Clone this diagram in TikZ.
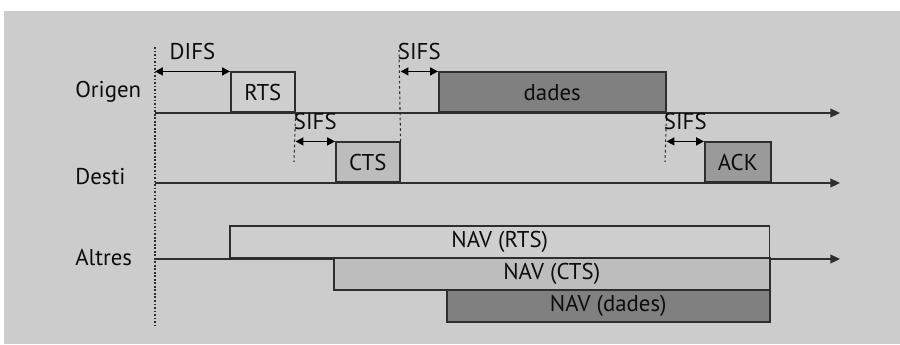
\documentclass[tikz,border=0pt]{standalone}
\usepackage{fontspec}
\setmainfont{PT Sans}
\usetikzlibrary{arrows.meta}
\definecolor{bggray}{HTML}{CCCCCC}
\definecolor{linegray}{HTML}{2E2E2E}
\definecolor{lightfill}{HTML}{CFCFCF}
\definecolor{midfill}{HTML}{BDBDBD}
\definecolor{ackfill}{HTML}{9A9A9A}
\definecolor{darkfill}{HTML}{808080}
\begin{document}
\begin{tikzpicture}[x=0.02cm,y=-0.02cm,font=\fontsize{13}{15}\selectfont,text=black!95]
                \tikzstyle{frame} = [rectangle, draw=linegray, line width=0.9pt, anchor=south west, inner sep=0pt, minimum height=0.8cm]
                \tikzstyle{navframe} = [frame, minimum height=0.64cm]
                \tikzstyle{axis} = [draw=linegray, line width=1pt, -{Triangle[length=5.5pt,width=5pt]}]
                \tikzstyle{dim} = [draw=black, line width=1pt, {Triangle[length=4.5pt,width=4.5pt]}-{Triangle[length=4.5pt,width=4.5pt]}]
                \tikzstyle{guide} = [draw=linegray, line width=0.6pt, dash pattern=on 1.5pt off 1.5pt]
                \tikzstyle{lbl} = [anchor=base west, inner sep=0pt]
                \useasboundingbox (0,0) rectangle (900,345);
                \fill[bggray] (4,11) rectangle (900,344);

                % stations
                \node (origen) [lbl] at (75,97) {Origen};
                \node (desti) [lbl] at (75,184) {Desti};
                \node (altres) [lbl] at (75,265) {Altres};

                % time axes
                \coordinate (o0) at (155,113);
                \coordinate (o1) at (840,113);
                \coordinate (d0) at (155,183);
                \coordinate (d1) at (840,183);
                \coordinate (a0) at (155,259);
                \coordinate (a1) at (840,259);
                \coordinate (t0) at (155,47);
                \coordinate (t1) at (155,327);
                \draw [axis] (o0) -- (o1);
                \draw [axis] (d0) -- (d1);
                \draw [axis] (a0) -- (a1);
                \draw [guide, dash pattern=on 1pt off 1pt] (t0) -- (t1);

                % frames
                \node (rts) [frame, fill=lightfill, minimum width=1.28cm] at (230,113) {RTS};
                \node (cts) [frame, fill=midfill, minimum width=1.28cm] at (335,183) {CTS};
                \node (dades) [frame, fill=darkfill, minimum width=4.54cm] at (438,113) {dades};
                \node (ack) [frame, fill=ackfill, minimum width=1.32cm] at (704,183) {ACK};

                % NAV
                \node (navrts) [navframe, fill=lightfill, minimum width=10.8cm] at (229,259) {NAV (RTS)};
                \node (navcts) [navframe, fill=midfill, minimum width=8.72cm] at (333,291) {NAV (CTS)};
                \node (navdades) [navframe, fill=darkfill, minimum width=6.46cm] at (446,323) {NAV (dades)};

                % interframe spaces
                \coordinate (g1) at (294,162);
                \coordinate (g2) at (399,50);
                \coordinate (g3) at (665,162);
                \draw [guide] (rts.south east) -- (g1);
                \draw [guide] (cts.north east) -- (g2);
                \draw [guide] (dades.south east) -- (g3);

                \draw [dim] (t0 |- rts.north) -- node[above=3pt] {DIFS} (rts.north west);
                \draw [dim] (rts.south east |- cts.north) -- node[above=3pt] {SIFS} (cts.north west);
                \draw [dim] (cts.east |- dades.north) -- node[above=3pt] {SIFS} (dades.north west);
                \draw [dim] (dades.south east |- ack.north) -- node[above=3pt] {SIFS} (ack.north west);
            \end{tikzpicture}
\end{document}
